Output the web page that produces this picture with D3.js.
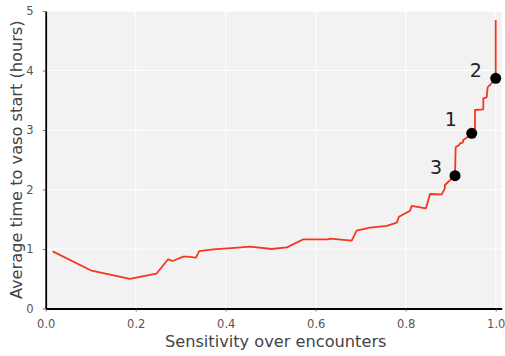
<!DOCTYPE html>
<html>
<head>
<meta charset="utf-8">
<script src="https://cdn.jsdelivr.net/npm/d3@7"></script>
<style>
  html, body { margin: 0; padding: 0; background: #fff; }
  svg { display: block; }
  text { font-family: "DejaVu Sans", sans-serif; }
</style>
</head>
<body>
<svg id="chart" width="505" height="356"></svg>
<script>
// Sensitivity (x) and average time to vasopressor start in hours (y)
const sensitivity = [
  0.0156, 0.102, 0.187, 0.246, 0.272, 0.282, 0.306, 0.313, 0.334, 0.341,
  0.372, 0.420, 0.454, 0.502, 0.536, 0.5725, 0.628, 0.632, 0.680, 0.691,
  0.7207, 0.7578, 0.780, 0.785, 0.8096, 0.8133, 0.845, 0.854, 0.880, 0.887,
  0.887, 0.9096, 0.911, 0.919, 0.9207, 0.9267, 0.928, 0.9333, 0.9467, 0.954,
  0.954, 0.9724, 0.9724, 0.980, 0.982, 0.989, 1.000, 1.000
];
const avgHours = [
  0.961, 0.635, 0.496, 0.585, 0.827, 0.798, 0.871, 0.871, 0.854, 0.966,
  0.995, 1.020, 1.039, 1.000, 1.028, 1.163, 1.163, 1.173, 1.140, 1.308,
  1.358, 1.387, 1.442, 1.543, 1.644, 1.723, 1.684, 1.924, 1.919, 2.020,
  2.076, 2.232, 2.709, 2.748, 2.776, 2.787, 2.832, 2.860, 2.944, 3.028,
  3.336, 3.348, 3.533, 3.550, 3.718, 3.773, 3.869, 4.849
];

// Highlighted operating points
const markerLabels = ["1", "2", "3"];
const markerSensitivity = [0.9467, 1.000, 0.9096];
const markerHours = [2.944, 3.869, 2.232];

// Axis ticks
const xTicks = [0.0, 0.2, 0.4, 0.6, 0.8, 1.0];
const xTickLabels = ["0.0", "0.2", "0.4", "0.6", "0.8", "1.0"];
const yTicks = [0, 1, 2, 3, 4, 5];
const yTickLabels = ["0", "1", "2", "3", "4", "5"];

const xTitle = "Sensitivity over encounters";
const yTitle = "Average time to vaso start (hours)";

const svg = d3.select("#chart");
const plotLeft = 45.7, plotRight = 501.7, plotTop = 11, plotBottom = 308.5;

const x = d3.scaleLinear().domain([0, 1.0133]).range([plotLeft, plotRight]);
const y = d3.scaleLinear().domain([0, 5]).range([plotBottom, plotTop]);

// panel background
svg.append("rect")
  .attr("x", plotLeft).attr("y", plotTop)
  .attr("width", plotRight - plotLeft).attr("height", plotBottom - plotTop)
  .attr("fill", "#f2f2f2");

// white grid
const grid = svg.append("g").attr("stroke", "#ffffff").attr("stroke-width", 1);
grid.selectAll("line.v").data(xTicks).join("line")
  .attr("class", "v")
  .attr("x1", d => x(d)).attr("x2", d => x(d))
  .attr("y1", plotTop).attr("y2", plotBottom);
grid.selectAll("line.h").data(yTicks).join("line")
  .attr("class", "h")
  .attr("x1", plotLeft).attr("x2", plotRight)
  .attr("y1", d => y(d)).attr("y2", d => y(d));

// axes
const xAxis = d3.axisBottom(x)
  .tickValues(xTicks)
  .tickFormat((d, i) => xTickLabels[i])
  .tickSize(3).tickSizeOuter(0).tickPadding(8);
const yAxis = d3.axisLeft(y)
  .tickValues(yTicks)
  .tickFormat((d, i) => yTickLabels[i])
  .tickSize(3).tickSizeOuter(0).tickPadding(9);

function styleAxis(g) {
  g.select(".domain").attr("stroke", "#000").attr("stroke-width", 1.8);
  g.selectAll(".tick line").attr("stroke", "#555").attr("stroke-width", 0.8);
  g.selectAll(".tick text")
    .attr("fill", "#555")
    .style("font-family", "'DejaVu Sans', sans-serif")
    .style("font-size", "11.5px");
}

svg.append("g").attr("transform", `translate(0,${plotBottom})`).call(xAxis).call(styleAxis);
svg.append("g").attr("transform", `translate(${plotLeft},0)`).call(yAxis).call(styleAxis);

// curve
const pts = sensitivity.map((s, i) => [s, avgHours[i]]);
svg.append("path")
  .datum(pts)
  .attr("fill", "none")
  .attr("stroke", "#f7361f")
  .attr("stroke-width", 1.8)
  .attr("stroke-linejoin", "round")
  .attr("d", d3.line().x(d => x(d[0])).y(d => y(d[1])));

// markers with numeric labels
const labelOffset = { "1": [-21, -7.6], "2": [-20, -1.3], "3": [-19, -1.7] };
const markers = markerLabels.map((l, i) => ({ label: l, s: markerSensitivity[i], h: markerHours[i] }));
svg.selectAll("circle.mk").data(markers).join("circle")
  .attr("class", "mk")
  .attr("cx", d => x(d.s)).attr("cy", d => y(d.h))
  .attr("r", 5.5).attr("fill", "#000");
svg.selectAll("text.mk").data(markers).join("text")
  .attr("class", "mk")
  .attr("x", d => x(d.s) + labelOffset[d.label][0])
  .attr("y", d => y(d.h) + labelOffset[d.label][1])
  .attr("text-anchor", "middle")
  .attr("fill", "#222")
  .style("font-size", "19px")
  .text(d => d.label);

// axis titles
svg.append("text")
  .attr("x", (plotLeft + plotRight) / 2 + 2).attr("y", 347)
  .attr("text-anchor", "middle")
  .attr("fill", "#444")
  .style("font-size", "16.2px")
  .text(xTitle);
svg.append("text")
  .attr("transform", `translate(22,${(plotTop + plotBottom) / 2}) rotate(-90)`)
  .attr("text-anchor", "middle")
  .attr("fill", "#444")
  .style("font-size", "16.2px")
  .text(yTitle);
</script>
</body>
</html>
